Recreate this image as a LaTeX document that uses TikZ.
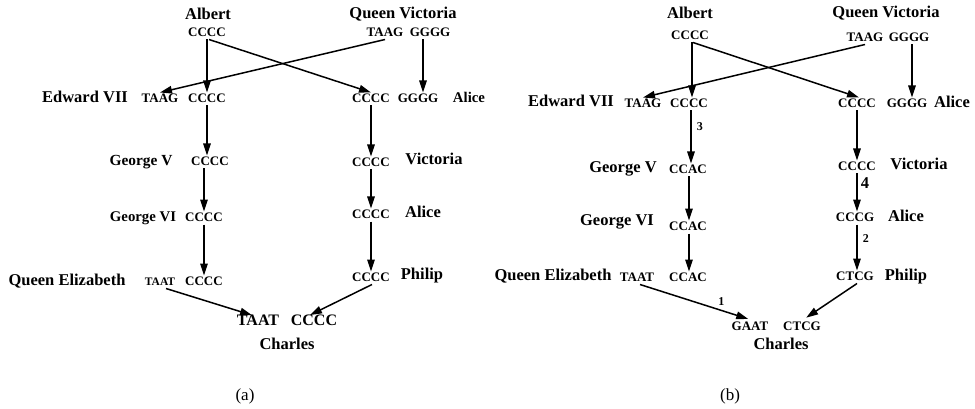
\documentclass[tikz,border=0pt]{standalone}
\usepackage{fontspec}
\setmainfont{Liberation Serif}
\usetikzlibrary{arrows.meta}

\tikzset{
  person/.style={font=\fontsize{16.5}{18}\selectfont\bfseries, inner sep=0pt,
                 text height=0.66em, text depth=0pt},
  seq/.style={font=\fontsize{13}{15}\selectfont\bfseries, inner sep=3pt,
              text height=0.66em, text depth=0pt},
  bigseq/.style={seq, font=\fontsize{16}{18}\selectfont\bfseries},
  link/.style={line width=1.5pt, -{Triangle[length=12pt,width=7.5pt]}},
  num/.style={font=\fontsize{12}{14}\selectfont\bfseries, inner sep=1pt},
  caption/.style={font=\fontsize{17}{19}\selectfont, inner sep=0pt}
}

\begin{document}
\begin{tikzpicture}[x=1pt,y=-1pt]
\useasboundingbox (0,0) rectangle (975,409);

% ---------------- (a) ----------------
\node[person] (aAlbert) at (208,16) {Albert};
\node[seq]    (aAlbC)   at (207,33) {CCCC};
\node[person] (aQV)     at (403,15) {Queen Victoria};
\node[seq]    (aQVT)    at (385,33) {TAAG};
\node[seq]    (aQVG)    at (430,33) {GGGG};

\node[person] (aEd)  at (85,99)  {Edward VII};
\node[seq]    (aEdT) at (160,99) {TAAG};
\node[seq]    (aEdC) at (207,99) {CCCC};
\node[seq]    (aAlC) at (371,99) {CCCC};
\node[seq]    (aAlG) at (418,99) {GGGG};
\node[person, font=\fontsize{14.8}{17}\selectfont\bfseries] (aAl) at (469,99) {Alice};

\node[person, font=\fontsize{15.4}{17}\selectfont\bfseries] (aGV) at (141,162) {George V};
\node[seq]    (aGVC) at (210,162) {CCCC};
\node[seq]    (aViC) at (371,163) {CCCC};
\node[person] (aVi)  at (434,161) {Victoria};

\node[person, font=\fontsize{14.8}{17}\selectfont\bfseries] (aG6) at (143,218) {George VI};
\node[seq]    (aG6C)  at (204,218) {CCCC};
\node[seq]    (aAl2C) at (371,215) {CCCC};
\node[person] (aAl2)  at (423,214) {Alice};

\node[person] (aQE)  at (67,282)  {Queen Elizabeth};
\node[seq, font=\fontsize{11.5}{13}\selectfont\bfseries] (aQET) at (160,282) {TAAT};
\node[seq]    (aQEC) at (204,282) {CCCC};
\node[seq]    (aPhC) at (371,278) {CCCC};
\node[person] (aPh)  at (422,276) {Philip};

\node[bigseq] (aChT) at (258,322) {TAAT};
\node[bigseq] (aChC) at (314,322) {CCCC};
\node[person] (aCh)  at (287,346) {Charles};
\node[caption] (capA) at (245,396) {(a)};

\draw[link] (aAlbC.south) -- (aAlbC.south |- aEdC.north);
\draw[link] ([xshift=2pt]aAlbC.south) -- (aAlC.north);
\draw[link] (aQVT.south) -- (aEdT.north);
\draw[link] ([xshift=-7pt]aQVG.south) -- ([xshift=-7pt]aQVG.south |- aAlG.north);
\draw[link] (aEdC.south) -- (aEdC.south |- aGVC.north);
\draw[link] (aGVC.south -| aG6C) -- (aG6C.north);
\draw[link] (aG6C.south) -- (aG6C.south |- aQEC.north);
\draw[link] (aAlC.south) -- (aViC.north);
\draw[link] (aViC.south) -- (aAl2C.north);
\draw[link] (aAl2C.south) -- (aPhC.north);
\draw[link, shorten >=1pt] ([xshift=6pt]aQET.south) -- ([xshift=-5pt]aChT.north);
\draw[link, shorten >=1pt] ([xshift=1pt]aPhC.south) -- ([xshift=-5pt]aChC.north);

% ---------------- (b) ----------------
\node[person] (bAlbert) at (690,15) {Albert};
\node[seq]    (bAlbC)   at (690,36) {CCCC};
\node[person] (bQV)     at (886,14) {Queen Victoria};
\node[seq]    (bQVT)    at (865,38) {TAAG};
\node[seq]    (bQVG)    at (909,38) {GGGG};

\node[person] (bEd)  at (571,103) {Edward VII};
\node[seq]    (bEdT) at (643,104) {TAAG};
\node[seq]    (bEdC) at (689,104) {CCCC};
\node[seq]    (bAlC) at (857,104) {CCCC};
\node[seq]    (bAlG) at (907,104) {GGGG};
\node[person] (bAl)  at (952,104) {Alice};

\node[person] (bGV)  at (623,169) {George V};
\node[seq]    (bGVC) at (688,170) {CCAC};
\node[seq]    (bViC) at (857,167) {CCCC};
\node[person] (bVi)  at (919,166) {Victoria};

\node[person] (bG6)   at (617,222) {George VI};
\node[seq]    (bG6C)  at (688,227) {CCAC};
\node[seq]    (bAl2C) at (855,218) {CCCG};
\node[person] (bAl2)  at (906,218) {Alice};

\node[person] (bQE)  at (553,277) {Queen Elizabeth};
\node[seq]    (bQET) at (637,278) {TAAT};
\node[seq]    (bQEC) at (688,278) {CCAC};
\node[seq]    (bPhC) at (855,277) {CTCG};
\node[person] (bPh)  at (906,277) {Philip};

\node[seq]    (bChT) at (750,327) {GAAT};
\node[seq]    (bChC) at (802,327) {CTCG};
\node[person] (bCh)  at (781,346) {Charles};
\node[caption] (capB) at (730,396) {(b)};

\draw[link] ([xshift=2pt]bAlbC.south) -- ([xshift=2pt]bAlbC.south |- bEdC.north);
\draw[link] ([xshift=3pt]bAlbC.south) -- ([xshift=2pt]bAlC.north);
\draw[link] (bQVT.south) -- (bEdT.north);
\draw[link] ([xshift=3pt]bQVG.south) -- ([xshift=3pt]bQVG.south |- bAlG.north);
\draw[link] ([xshift=2pt]bEdC.south) -- ([xshift=2pt]bEdC.south |- bGVC.north)
  node[num, pos=0.3, right=4pt] (n3) {3};
\draw[link] ([xshift=1pt]bGVC.south) -- ([xshift=1pt]bGVC.south |- bG6C.north);
\draw[link] ([xshift=1pt]bG6C.south) -- ([xshift=1pt]bG6C.south |- bQEC.north);
\draw[link] (bAlC.south) -- (bAlC.south |- bViC.north);
\draw[link] (bViC.south) -- (bViC.south |- bAl2C.north)
  node[person, pos=0.3, right=3pt] (n4) {4};
\draw[link] ([xshift=2pt]bAl2C.south) -- ([xshift=2pt]bAl2C.south |- bPhC.north)
  node[num, pos=0.3, right=4pt] (n2) {2};
\draw[link, shorten >=5pt] ([xshift=3pt]bQET.south) -- ([xshift=3pt]bChT.north)
  node[num, pos=0.72, above=3pt] (n1) {1};
\draw[link, shorten >=5pt] ([xshift=2pt]bPhC.south) -- (bChC.north);

\end{tikzpicture}
\end{document}
